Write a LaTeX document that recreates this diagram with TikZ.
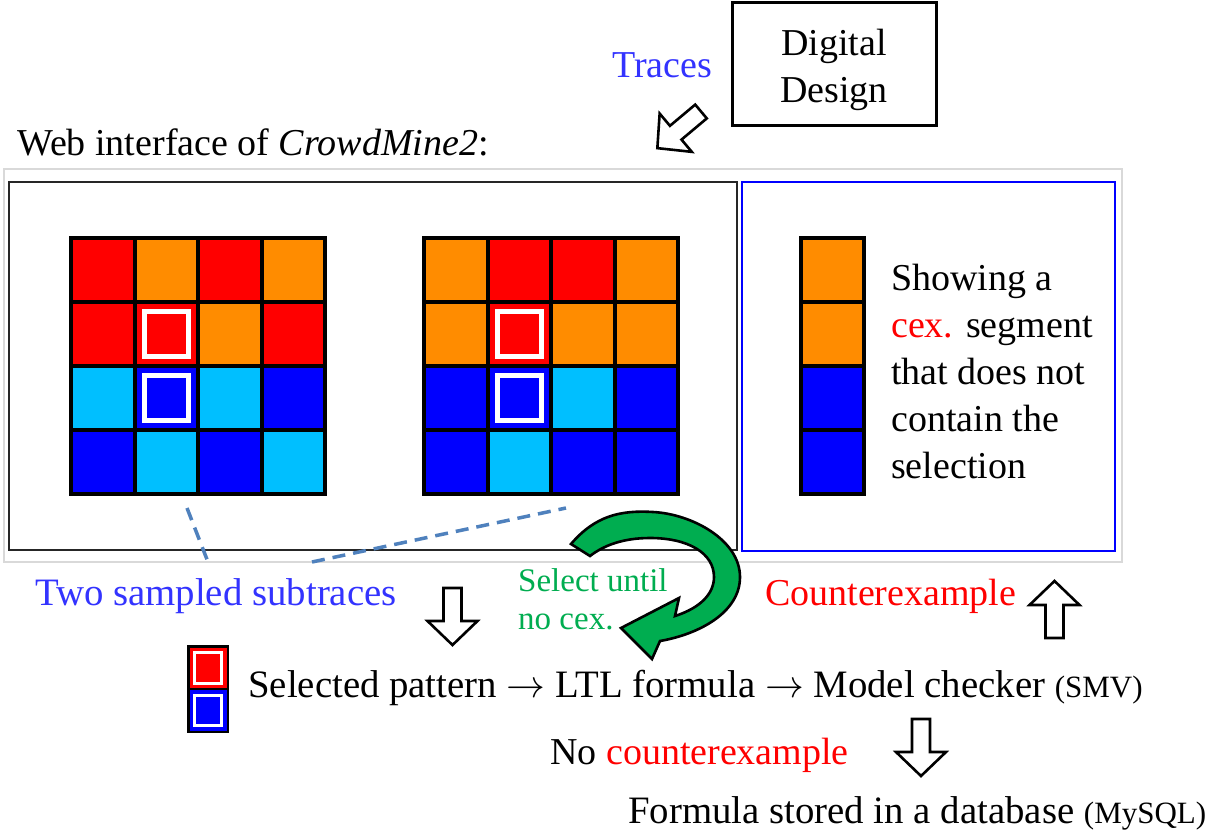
\RequirePackage{fix-cm}
\documentclass[tikz,border=0pt]{standalone}
\usepackage{fontspec}
\setmainfont{Liberation Serif}
\definecolor{cellred}{RGB}{255,0,0}
\definecolor{cellorange}{RGB}{255,140,0}
\definecolor{celllight}{RGB}{0,191,255}
\definecolor{cellblue}{RGB}{0,0,255}
\definecolor{labelblue}{RGB}{51,51,255}
\definecolor{loopgreen}{RGB}{0,173,80}
\definecolor{dashblue}{RGB}{79,129,189}
\definecolor{framegray}{RGB}{217,217,217}

\tikzset{
  big/.style={font=\fontsize{38}{47}\selectfont, inner sep=0pt},
  wide/.style={font=\fontsize{38.8}{47}\selectfont, inner sep=0pt},
  mid/.style={font=\fontsize{33}{38}\selectfont, inner sep=0pt},
  blockarrow/.pic={\draw[line width=2.6pt, fill=white, line join=miter]
    (-9,0) -- (9,0) -- (9,33) -- (25,33) -- (0,57) -- (-25,33) -- (-9,33) -- cycle;},
  guide/.style={dashblue, line width=3.5pt, dash pattern=on 13pt off 8pt},
}
\newcommand\smallpart[1]{{\fontsize{31}{33}\selectfont #1}}
\newcommand\flowto{\(\rightarrow\)}
% 4x4 trace grid: #1,#2 top-left corner, #3 colours row by row
\newcommand\tracegrid[3]{%
  \fill[black] (#1,#2) rectangle ++(258,260);
  \foreach \c [count=\i from 0] in {#3} {
    \pgfmathtruncatemacro\gcol{mod(\i,4)}
    \pgfmathtruncatemacro\grow{div(\i,4)}
    \fill[\c] ({#1+4+\gcol*63.5},{#2+4+\grow*64}) rectangle ++(59.5,60);
  }
}
% white selection frame inside a cell whose top-left corner is #1,#2
\newcommand\pickframe[2]{%
  \draw[white, line width=5pt] ({#1+7.7},{#2+7.7}) rectangle ({#1+59.5-7.7},{#2+60-7.7});
}

\begin{document}
\begin{tikzpicture}[x=1pt,y=-1pt]
\fill[white] (0,0) rectangle (1218,837);
\useasboundingbox (0,0) rectangle (1218,837);

% design box and trace arrow
\node[draw, line width=3pt, minimum width=204, minimum height=123] (design) at (834,64.5) {};
\node[big, align=center] (designtext) at (834,69.5) {Digital\\Design};
\node[big, anchor=base west, text=labelblue] (traces) at (612,78) {Traces};
\pic[rotate=-50] at (701,111.5) {blockarrow};

\node[big, anchor=base west] (web) at (17,156) {Web interface of \textit{CrowdMine2}:};

% frames of the web interface
\draw[framegray, line width=1.5pt] (4,169) rectangle (1122,562);
\draw[black!85, line width=2pt] (9,182) rectangle (737,550);
\draw[cellblue, line width=2pt] (742,182) rectangle (1115,551);

% two sampled subtraces
\tracegrid{69}{236}{cellred,cellorange,cellred,cellorange,
  cellred,cellred,cellorange,cellred,
  celllight,cellblue,celllight,cellblue,
  cellblue,celllight,cellblue,celllight}
\pickframe{136.5}{304}
\pickframe{136.5}{368}

\tracegrid{422}{236}{cellorange,cellred,cellred,cellorange,
  cellorange,cellred,cellorange,cellorange,
  cellblue,cellblue,celllight,cellblue,
  cellblue,celllight,cellblue,cellblue}
\pickframe{489.5}{304}
\pickframe{489.5}{368}

% counterexample segment
\fill[black] (799,236) rectangle ++(67,260);
\foreach \c [count=\i from 0] in {cellorange,cellorange,cellblue,cellblue}
  \fill[\c] (803,{240+\i*64}) rectangle ++(59,60);
\node[big, anchor=north west, align=left] (cexnote) at (891,264)
  {Showing a\\\textcolor{cellred}{cex.} segment\\that does not\\contain the\\selection};

% label of the subtraces
\coordinate (ga) at (187,508);
\coordinate (gb) at (566,508);
\coordinate (la) at (208,562);
\coordinate (lb) at (312,562);
\draw[guide] (ga) -- (la);
\draw[guide] (lb) -- (gb);
\node[wide, anchor=base west, text=labelblue] (sub) at (35,605) {Two sampled subtraces};

% selection loop
\draw[fill=loopgreen, line width=2.6pt, line join=miter]
  (571,544) .. controls (595,516) and (620,510) .. (653,512)
  .. controls (692,514) and (740,540) .. (740,577)
  .. controls (740,612) and (700,634) .. (660,641)
  -- (652,659) -- (621,628) -- (679,598) -- (675,616)
  .. controls (700,608) and (714,594) .. (714,577)
  .. controls (714,553) and (688,538) .. (650,538)
  .. controls (622,538) and (603,546) .. (590,556)
  -- cycle;
\node[mid, anchor=north west, align=left, text=loopgreen] (loop) at (518,568)
  {Select until\\no cex.};

% flow below the interface
\pic at (452.5,588) {blockarrow};
\pic[rotate=180] at (1054.5,638) {blockarrow};
\pic at (921,719) {blockarrow};
\node[big, anchor=base west, text=cellred] (cex) at (765,605) {Counterexample};

% selected pattern icon
\fill[black] (187,645) rectangle (229,733);
\fill[cellred] (189.5,647.5) rectangle (226.5,688);
\fill[cellblue] (189.5,690) rectangle (226.5,730.5);
\draw[white, line width=3pt] (194.5,652.5) rectangle (221.5,683);
\draw[white, line width=3pt] (194.5,695) rectangle (221.5,725.5);

\node[wide, anchor=base west] (chain) at (248,697)
  {Selected pattern \flowto{} LTL formula \flowto{} Model checker \smallpart{(SMV)}};
\node[big, anchor=base west] (nocex) at (550,764) {No \textcolor{cellred}{counterexample}};
\node[wide, anchor=base west] (store) at (628,823) {Formula stored in a database \smallpart{(MySQL)}};
\end{tikzpicture}
\end{document}
